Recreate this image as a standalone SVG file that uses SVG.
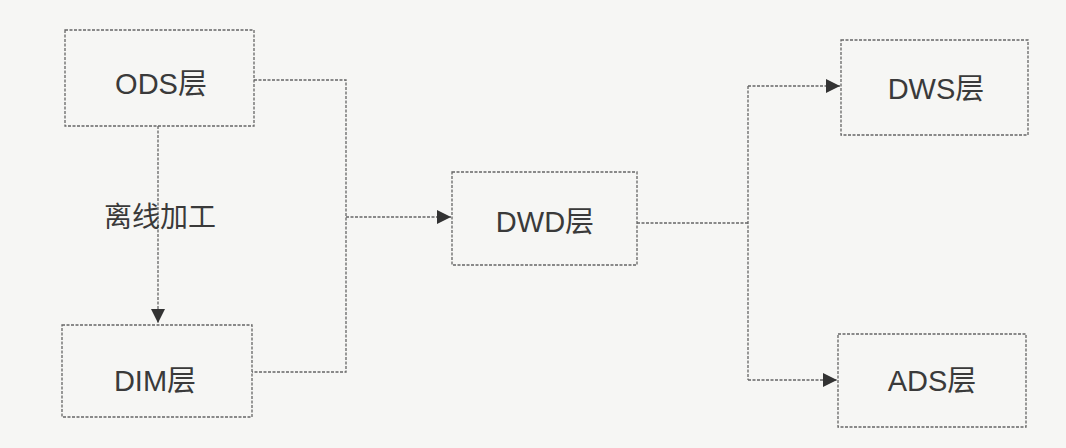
<svg xmlns="http://www.w3.org/2000/svg" width="1066" height="448" viewBox="0 0 1066 448">
<defs>
<style>
.box{fill:none;stroke:#666;stroke-width:1.3;stroke-dasharray:3 1.5}
.ln{fill:none;stroke:#666;stroke-width:1.3;stroke-dasharray:3 1.5}
.t{font-family:"Liberation Sans","Noto Sans CJK SC",sans-serif;font-size:29px;fill:#3a3a3a;text-anchor:middle;dominant-baseline:central}
</style>
<marker id="ah" viewBox="0 0 10 10" refX="10" refY="5" markerWidth="14" markerHeight="14" markerUnits="userSpaceOnUse" orient="auto">
<path d="M0,0 L10,5 L0,10 z" fill="#333"/>
</marker>
</defs>
<rect width="1066" height="448" fill="#f6f6f4"/>
<g id="connectors">
<path class="ln" d="M254,80 H346 V372 H252"/>
<path class="ln" d="M346,217 H451" marker-end="url(#ah)"/>
<path class="ln" d="M158,126 V323" marker-end="url(#ah)"/>
<path class="ln" d="M637,223 H748"/>
<path class="ln" d="M748,86 V380"/>
<path class="ln" d="M748,86 H840" marker-end="url(#ah)"/>
<path class="ln" d="M748,380 H837" marker-end="url(#ah)"/>
</g>
<g id="label-offline">
<text class="t" x="160" y="217" style="font-size:28px">离线加工</text>
</g>
<g id="ods"><rect class="box" x="65" y="30" width="189" height="96"/><text class="t" x="161" y="84">ODS层</text></g>
<g id="dim"><rect class="box" x="62" y="325" width="190" height="92"/><text class="t" x="155" y="381">DIM层</text></g>
<g id="dwd"><rect class="box" x="452" y="172" width="185" height="93"/><text class="t" x="545" y="222">DWD层</text></g>
<g id="dws"><rect class="box" x="841" y="40" width="187" height="95"/><text class="t" x="936" y="89">DWS层</text></g>
<g id="ads"><rect class="box" x="838" y="334" width="188" height="93"/><text class="t" x="932" y="381">ADS层</text></g>
</svg>
